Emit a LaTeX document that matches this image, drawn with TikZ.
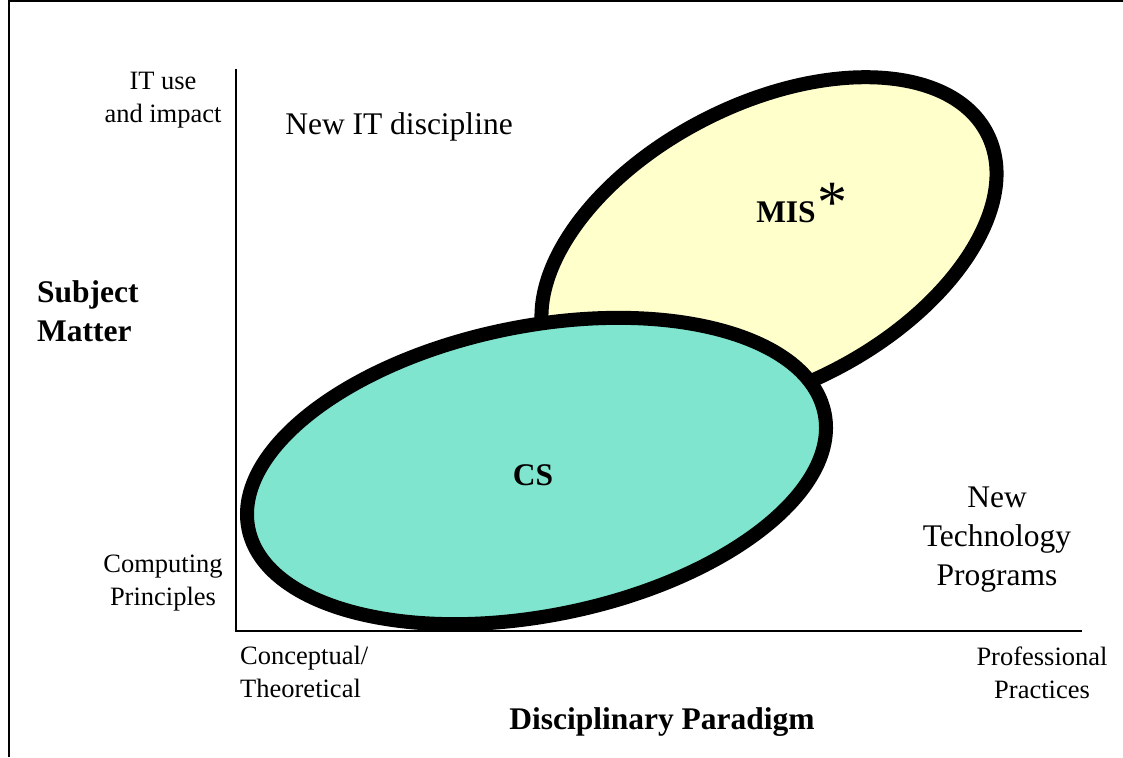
\documentclass[tikz,border=0pt]{standalone}
\usepackage{fontspec}
\setmainfont{Liberation Serif}
\definecolor{misfill}{RGB}{255,255,204}
\definecolor{csfill}{RGB}{128,229,206}
\tikzset{
  small/.style={font=\fontsize{26.5}{33}\selectfont, align=center, inner sep=0pt},
  big/.style={font=\fontsize{31.5}{39}\selectfont, align=center, inner sep=0pt},
  bigbold/.style={font=\fontsize{31.5}{39}\selectfont\bfseries, align=left, inner sep=0pt},
  blob/.style={draw=black, line width=14pt}
}
\begin{document}
\begin{tikzpicture}[x=1pt,y=-1pt]
        \useasboundingbox (0,0) rectangle (1123,757);
        \draw[line width=2pt] (8.5,757) -- (8.5,1.5) -- (1123,1.5);
        % the two fields
        \filldraw[blob, fill=misfill, rotate around={27:(769,245)}] (769,245) ellipse [x radius=245, y radius=141];
        \filldraw[blob, fill=csfill, rotate around={11.3:(536.5,471)}] (536.5,471) ellipse [x radius=293.8, y radius=144.7];
        \node[bigbold] (mis) at (786,212) {MIS};\node[font=\fontsize{60}{60}\selectfont, inner sep=0pt] (star) at (832,203) {*};
        \node[bigbold] (cs) at (533,475) {CS};
        % axes
        \coordinate (o) at (236,631);\coordinate (ytop) at (236,69);\coordinate (xend) at (1082,631);
        \draw[line width=2pt] (ytop) -- (o) -- (xend);
        \node[small] (ituse) at (163,100) {IT use\\and impact};
        \node[small] (comp) at (163,583) {Computing\\Principles};
        \node[small, align=left, anchor=west] (concept) at (240,672) {Conceptual/\\Theoretical};
        \node[small] (prof) at (1042,673) {Professional\\Practices};
        \node[big] (newit) at (399,127) {New IT discipline};
        \node[big] (newtech) at (997,540) {New\\Technology\\Programs};
        \node[bigbold, anchor=west] (subj) at (37,311) {Subject\\Matter};
        \node[bigbold] (para) at (662,722) {Disciplinary Paradigm};
     \end{tikzpicture}
\end{document}
